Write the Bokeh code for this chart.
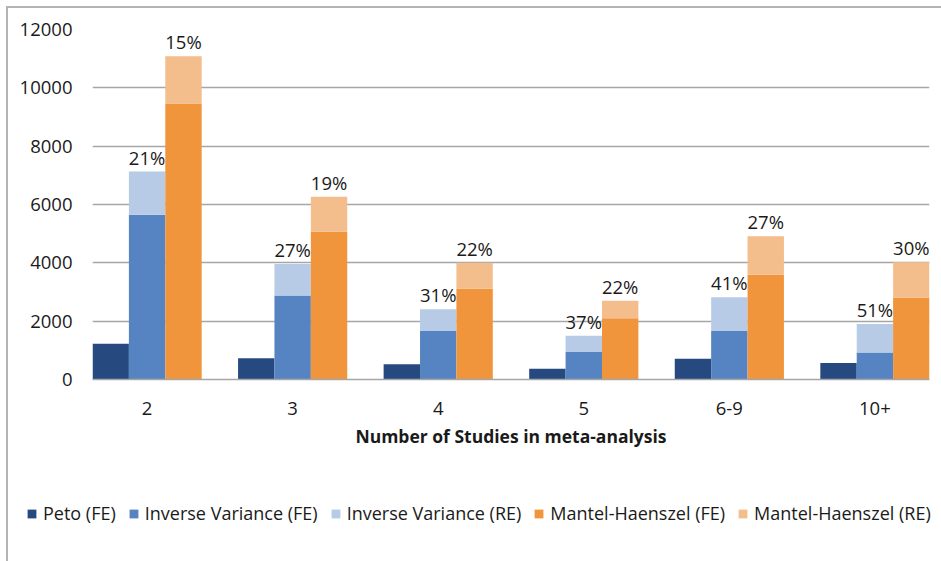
from bokeh.plotting import figure
from bokeh.layouts import column
from bokeh.models import (ColumnDataSource, Range1d, FixedTicker, Legend,
                          LegendItem, LabelSet)
from bokeh.core.properties import value
from bokeh.transform import dodge
from bokeh.embed import file_html
from bokeh.resources import INLINE

# Number of meta-analyses by number of included studies and method
categories = ["2", "3", "4", "5", "6-9", "10+"]
peto_fe = [1230, 730, 520, 370, 710, 570]
iv_fe = [5650, 2880, 1660, 940, 1660, 930]
iv_re = [1480, 1080, 750, 560, 1160, 970]
mh_fe = [9460, 5070, 3110, 2100, 3590, 2810]
mh_re = [1620, 1200, 890, 600, 1320, 1210]
y_ticks = [0, 2000, 4000, 6000, 8000, 10000, 12000]
series = ["Peto (FE)", "Inverse Variance (FE)", "Inverse Variance (RE)",
          "Mantel-Haenszel (FE)", "Mantel-Haenszel (RE)"]

FONT = "Open Sans"
TEXT = "#1a1a1a"
GRID = "#a6a6a6"
colors = ["#264a80", "#5683c2", "#b8cbe6", "#f0953b", "#f4bd8c"]

iv_tot = [a + b for a, b in zip(iv_fe, iv_re)]
mh_tot = [a + b for a, b in zip(mh_fe, mh_re)]
src = ColumnDataSource(dict(
    x=list(range(len(categories))),
    peto_fe=peto_fe,
    iv_fe=iv_fe, iv_tot=iv_tot,
    mh_fe=mh_fe, mh_tot=mh_tot,
    iv_pct=[f"{round(100 * r / t)}%" for r, t in zip(iv_re, iv_tot)],
    mh_pct=[f"{round(100 * r / t)}%" for r, t in zip(mh_re, mh_tot)],
))

x_range = Range1d(-0.375, len(categories) - 0.625)
p = figure(frame_width=837, frame_height=350,
           x_range=x_range, y_range=Range1d(0, 12000),
           output_backend="svg", toolbar_location=None,
           min_border_left=84, min_border_top=21, min_border_right=4,
           min_border_bottom=80)
p.outline_line_color = None
p.background_fill_color = "white"
p.border_fill_color = "white"

W = 0.25
bars = [
    (-W, 0, "peto_fe"),
    (0, 0, "iv_fe"),
    (0, "iv_fe", "iv_tot"),
    (W, 0, "mh_fe"),
    (W, "mh_fe", "mh_tot"),
]
for (off, bottom, top), color in zip(bars, colors):
    p.vbar(x=dodge("x", off, range=p.x_range), width=W, bottom=bottom,
           top=top, source=src, fill_color=color, line_color=None)

# share of random-effects analyses above each stacked bar
for xoff, ycol, tcol in [(0, "iv_tot", "iv_pct"), (W, "mh_tot", "mh_pct")]:
    p.add_layout(LabelSet(x=dodge("x", xoff, range=p.x_range), y=ycol,
                          text=tcol, source=src, y_offset=2,
                          text_align="center", text_baseline="bottom",
                          text_font=value(FONT), text_font_size="18.5px",
                          text_color=TEXT))

# axes
p.xaxis.ticker = FixedTicker(ticks=list(range(len(categories))))
p.xaxis.major_label_overrides = {i: c for i, c in enumerate(categories)}
p.xaxis.axis_label = "Number of Studies in meta-analysis"
p.xaxis.axis_label_text_font = FONT
p.xaxis.axis_label_text_font_style = "bold"
p.xaxis.axis_label_text_font_size = "17.5px"
p.xaxis.axis_label_text_color = TEXT
p.xaxis.axis_label_standoff = 6
p.xaxis.axis_line_color = GRID
p.xaxis.axis_line_width = 1.5
p.xaxis.major_tick_line_color = None
p.xaxis.minor_tick_line_color = None
p.xaxis.major_label_standoff = 16

p.yaxis.ticker = FixedTicker(ticks=y_ticks)
p.yaxis.axis_line_color = None
p.yaxis.major_tick_line_color = None
p.yaxis.minor_tick_line_color = None
p.yaxis.major_label_standoff = 14

for ax in (p.xaxis, p.yaxis):
    ax.major_label_text_font = FONT
    ax.major_label_text_font_size = "18.5px"
    ax.major_label_text_color = TEXT

p.xgrid.visible = False
p.ygrid.ticker = FixedTicker(ticks=y_ticks[1:])
p.ygrid.grid_line_color = GRID
p.ygrid.grid_line_width = 1.5

# legend strip under the chart; its key renderers are flat and out of view
leg = figure(frame_width=933, frame_height=102,
             x_range=Range1d(-0.375, len(categories) - 0.625),
             y_range=Range1d(1, 2),
             x_axis_location=None, y_axis_location=None,
             output_backend="svg", toolbar_location=None, min_border=0)
leg.outline_line_color = None
leg.xgrid.visible = False
leg.ygrid.visible = False
keys = []
for name, color in zip(series, colors):
    r = leg.vbar(x="x", width=W, bottom=0, top=0, source=src,
                 fill_color=color, line_color=None)
    keys.append(LegendItem(label=name, renderers=[r]))

legend = Legend(items=keys, orientation="horizontal", location=(18, 36))
legend.glyph_width = 11
legend.glyph_height = 11
legend.label_standoff = 6
legend.spacing = 12
legend.padding = 0
legend.margin = 0
legend.border_line_color = None
legend.background_fill_alpha = 0
legend.label_text_font = FONT
legend.label_text_font_size = "18px"
legend.label_text_color = TEXT
leg.add_layout(legend, "center")

page = column(p, leg, spacing=0)
page.margin = (6, 0, 0, 6)
page.styles = {"border-top": "2px solid #b4b4b4",
               "border-left": "2px solid #b4b4b4"}

open("out.html", "w").write(file_html(page, INLINE))
